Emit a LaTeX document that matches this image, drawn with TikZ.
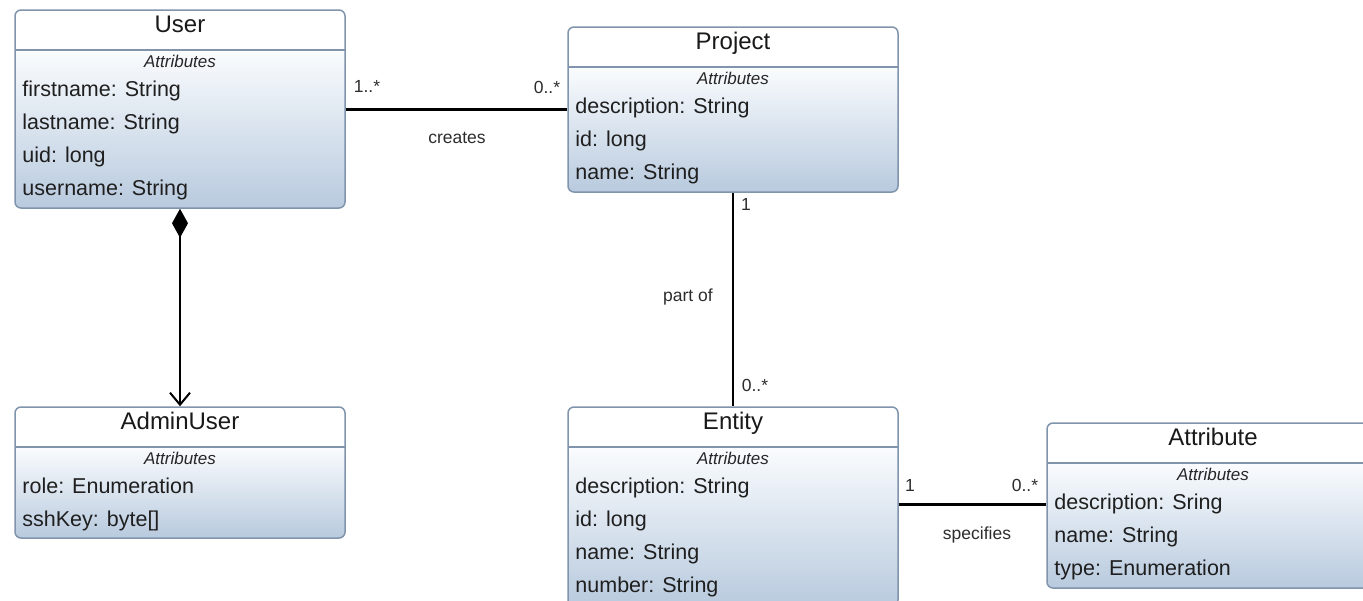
\documentclass[tikz,border=0pt]{standalone}
\usepackage{fontspec}
\setmainfont{Liberation Sans}
\usetikzlibrary{arrows.meta}

\definecolor{boxline}{RGB}{128,148,172}
\definecolor{bodytop}{RGB}{250,252,254}
\definecolor{bodybot}{RGB}{184,202,222}
\definecolor{linkgray}{RGB}{45,45,45}

\newcommand\clsTitleFont{\fontsize{24}{28}\selectfont}
\newcommand\clsAttrFont{\fontsize{21.5}{26}\selectfont}
\newcommand\clsHeadFont{\fontsize{17}{20}\selectfont\itshape}
\newcommand\clsLinkFont{\fontsize{17.5}{20}\selectfont}

\begin{document}
\begin{tikzpicture}[x=1pt,y=-1pt,
  classbox/.style={draw=boxline, line width=1.5pt, rounded corners=6pt,
    inner sep=0pt, minimum width=330pt,
    path picture={
      \fill[white] (path picture bounding box.north west) rectangle
        ([yshift=-40pt]path picture bounding box.north east);
      \shade[top color=bodytop, bottom color=bodybot]
        ([yshift=-40pt]path picture bounding box.north west) rectangle
        (path picture bounding box.south east);
      \draw[boxline, line width=2pt]
        ([yshift=-40pt]path picture bounding box.north west) --
        ([yshift=-40pt]path picture bounding box.north east);
    }},
  ctitle/.style={anchor=base, inner sep=0pt, font=\clsTitleFont, text=black!90},
  chead/.style={anchor=base, inner sep=0pt, font=\clsHeadFont, text=black!85},
  cattr/.style={anchor=base west, inner sep=0pt, font=\clsAttrFont, text=black!88},
  mult/.style={anchor=base, inner sep=0pt, font=\clsLinkFont, text=linkgray},
  link/.style={line width=2.8pt, black},
]
\useasboundingbox (0,0) rectangle (1363,600);
\fill[white] (0,0) rectangle (1363,600);

% ---- classes ----
\node[classbox, minimum height=198pt] (user) at (180,109) {};
\node[ctitle] (userT) at ([yshift=-23pt]user.north) {User};
\node[chead] (userH) at ([yshift=-58pt]user.north) {Attributes};
\node[cattr] (userA1) at ([xshift=8pt,yshift=-87pt]user.north west) {firstname: String};
\node[cattr] (userA2) at ([xshift=8pt,yshift=-120pt]user.north west) {lastname: String};
\node[cattr] (userA3) at ([xshift=8pt,yshift=-153pt]user.north west) {uid: long};
\node[cattr] (userA4) at ([xshift=8pt,yshift=-186pt]user.north west) {username: String};

\node[classbox, minimum height=131pt] (admin) at (180,472.5) {};
\node[ctitle] (adminT) at ([yshift=-23pt]admin.north) {AdminUser};
\node[chead] (adminH) at ([yshift=-58pt]admin.north) {Attributes};
\node[cattr] (adminA1) at ([xshift=8pt,yshift=-87pt]admin.north west) {role: Enumeration};
\node[cattr] (adminA2) at ([xshift=8pt,yshift=-120pt]admin.north west) {sshKey: byte[]};

\node[classbox, minimum height=165pt] (project) at (733,109.5) {};
\node[ctitle] (projectT) at ([yshift=-23pt]project.north) {Project};
\node[chead] (projectH) at ([yshift=-58pt]project.north) {Attributes};
\node[cattr] (projectA1) at ([xshift=8pt,yshift=-87pt]project.north west) {description: String};
\node[cattr] (projectA2) at ([xshift=8pt,yshift=-120pt]project.north west) {id: long};
\node[cattr] (projectA3) at ([xshift=8pt,yshift=-153pt]project.north west) {name: String};

\node[classbox, minimum height=199pt] (entity) at (733,506.5) {};
\node[ctitle] (entityT) at ([yshift=-23pt]entity.north) {Entity};
\node[chead] (entityH) at ([yshift=-58pt]entity.north) {Attributes};
\node[cattr] (entityA1) at ([xshift=8pt,yshift=-87pt]entity.north west) {description: String};
\node[cattr] (entityA2) at ([xshift=8pt,yshift=-120pt]entity.north west) {id: long};
\node[cattr] (entityA3) at ([xshift=8pt,yshift=-153pt]entity.north west) {name: String};
\node[cattr] (entityA4) at ([xshift=8pt,yshift=-186pt]entity.north west) {number: String};

\node[classbox, minimum width=332pt, minimum height=165pt] (attribute) at (1213,505.5) {};
\node[ctitle] (attributeT) at ([yshift=-23pt]attribute.north) {Attribute};
\node[chead] (attributeH) at ([yshift=-58pt]attribute.north) {Attributes};
\node[cattr] (attributeA1) at ([xshift=8pt,yshift=-87pt]attribute.north west) {description: Sring};
\node[cattr] (attributeA2) at ([xshift=8pt,yshift=-120pt]attribute.north west) {name: String};
\node[cattr] (attributeA3) at ([xshift=8pt,yshift=-153pt]attribute.north west) {type: Enumeration};

% ---- associations ----
\draw[link] ([yshift=-100pt]user.north east) -- ([yshift=-83pt]project.north west);
\node[mult] (createsFrom) at (367,92) {1..*};
\node[mult] (createsTo) at (547,93) {0..*};
\node[mult] (createsName) at (457,143) {creates};

\draw[link] (project.south) -- (entity.north);
\node[mult] (partFrom) at (746,210) {1};
\node[mult] (partName) at (688,301) {part of};
\node[mult] (partTo) at (755,391) {0..*};

\draw[link] ([yshift=-98pt]entity.north east) -- ([yshift=-82pt]attribute.north west);
\node[mult] (specFrom) at (910,491) {1};
\node[mult] (specTo) at (1025,491) {0..*};
\node[mult] (specName) at (977,539) {specifies};

% ---- composition ----
\draw[link, {Diamond[length=29pt,width=16pt]}-{Straight Barb[length=12pt,width=20pt,line width=2pt]}]
  (user.south) -- (admin.north);
\end{tikzpicture}
\end{document}
